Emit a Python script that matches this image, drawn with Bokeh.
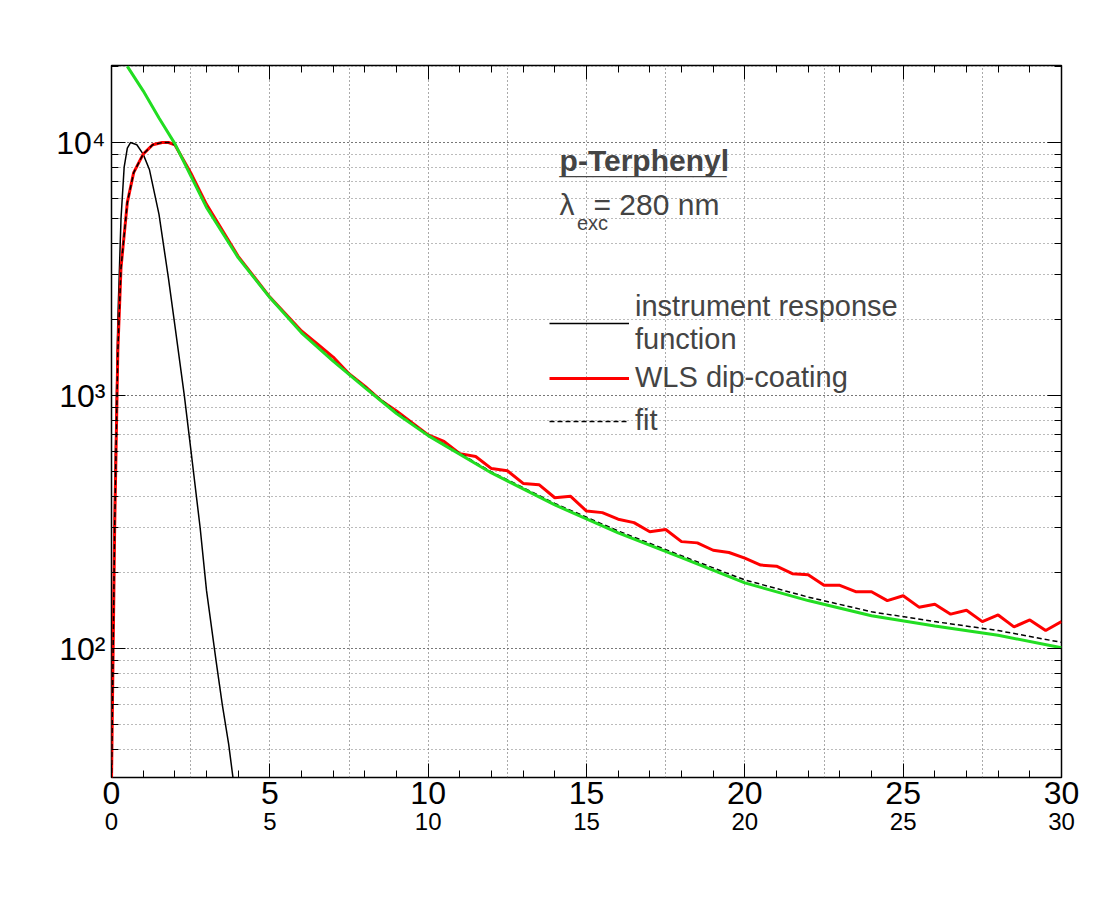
from bokeh.plotting import figure
from bokeh.models import (Range1d, LinearAxis, LogAxis, Label, Legend, LegendItem,
                          FixedTicker, LogTicker)
from bokeh.embed import file_html
from bokeh.resources import INLINE

FONT = "Liberation Sans"

irf_x = [0.0, 0.1, 0.2, 0.3, 0.4, 0.5, 0.6, 0.8, 1.0, 1.2, 1.5, 1.8, 2.0, 2.3, 2.5, 2.8, 3.0, 3.3, 3.5, 3.7, 3.85]
irf_y = [30, 400, 2000, 5000, 8000, 9500, 10000, 9800, 9000, 7800, 5200, 2900, 1900, 1000, 620, 300, 170, 90, 60, 42, 30]

rise_x = [0.0, 0.1, 0.2, 0.3, 0.5, 0.7, 1.0, 1.3, 1.6, 1.8]
rise_y = [30, 300, 1500, 3200, 5800, 7600, 9000, 9800, 10000, 10000]

red_x = [2.0 + 0.5 * i for i in range(57)]
red_y = [9800, 7600, 5700, 4500, 3550, 2950, 2450, 2100, 1800, 1600, 1420, 1220, 1090, 960, 870, 780,
         700, 660, 590, 575, 515, 505, 450, 445, 395, 400, 350, 345, 325, 315, 290, 296, 265, 262,
         245, 240, 228, 214, 212, 198, 196, 178, 178, 168, 168, 155, 162, 146, 150, 137, 142, 128,
         136, 122, 130, 118, 128]

fit_x = rise_x + [2.0, 2.5, 3, 4, 5, 6, 7, 8, 9, 10, 12, 14, 16, 18, 20, 22, 24, 26, 28, 30]
fit_y = rise_y + [9800, 7500, 5600, 3520, 2450, 1780, 1380, 1085, 860, 700, 500, 375, 292, 233, 187, 160, 140, 128, 118, 106]

green_x = [0.5, 1.0, 1.5, 2.0, 2.5, 3, 4, 5, 6, 7, 8, 9, 10, 12, 14, 16, 18, 20, 22, 24, 26, 28, 30]
green_y = [20000, 16000, 12500, 9900, 7400, 5540, 3510, 2440, 1770, 1370, 1075, 850, 695, 495, 370, 287, 229, 182, 155, 135, 123, 113, 101]

x_ticks = [0, 5, 10, 15, 20, 25, 30]
y_labels = {100: "10²", 1000: "10³", 10000: "10⁴"}
minor_x = [i * 1.0 for i in range(31)]

p = figure(width=1082, height=898, y_axis_type="log", output_backend="svg", toolbar_location=None,
           x_range=Range1d(0, 30), y_range=Range1d(31, 20150),
           min_border_left=111, min_border_right=21, min_border_top=65, min_border_bottom=121)
p.outline_line_color = "black"
p.outline_line_width = 1.5

for ax in p.xaxis + p.yaxis:
    ax.major_tick_in = 14
    ax.major_tick_out = 0
    ax.minor_tick_in = 7
    ax.minor_tick_out = 0
    ax.axis_line_color = None
    ax.major_label_text_font = FONT
    ax.major_label_text_font_size = "32px"
    ax.major_label_text_color = "black"
p.xaxis.ticker = FixedTicker(ticks=x_ticks, minor_ticks=minor_x)
p.xaxis.major_label_standoff = 4
p.yaxis.ticker = LogTicker(num_minor_ticks=10)
p.yaxis.major_label_overrides = y_labels
p.yaxis.major_label_standoff = 6

# second row of x tick labels
ax2 = LinearAxis(ticker=FixedTicker(ticks=x_ticks), axis_line_color=None, major_tick_line_color=None,
                 minor_tick_line_color=None, major_label_text_font=FONT, major_label_text_color="black",
                 major_label_text_font_size="24px", major_label_standoff=0)
p.add_layout(ax2, "below")
p.add_layout(LinearAxis(ticker=FixedTicker(ticks=x_ticks, minor_ticks=minor_x),
                        major_label_text_alpha=0, major_label_text_font_size="8px", axis_line_color=None,
                        major_tick_in=14, major_tick_out=0, minor_tick_in=7, minor_tick_out=0,
                        major_label_standoff=0), "above")
p.add_layout(LogAxis(ticker=LogTicker(num_minor_ticks=10), major_label_text_alpha=0,
                     major_label_text_font_size="8px", axis_line_color=None,
                     major_tick_in=14, major_tick_out=0, minor_tick_in=7, minor_tick_out=0,
                     major_label_standoff=0), "right")

p.xgrid.ticker = FixedTicker(ticks=[2.5, 5, 7.5, 10, 12.5, 15, 17.5, 20, 22.5, 25, 27.5])
for g in [p.xgrid, p.ygrid]:
    g.grid_line_color = "#555555"
    g.grid_line_dash = "1 3"
p.ygrid.minor_grid_line_color = "#777777"
p.ygrid.minor_grid_line_dash = "1 3"

r_irf = p.line(irf_x, irf_y, line_color="black", line_width=1.5)
r_red = p.line(rise_x + red_x, rise_y + red_y, line_color="red", line_width=3)
r_fit = p.line(fit_x, fit_y, line_color="black", line_width=1.5, line_dash="5 3")
p.line(green_x, green_y, line_color="#22dd22", line_width=3)

legend = Legend(items=[LegendItem(label="instrument response\nfunction", renderers=[r_irf]),
                       LegendItem(label="WLS dip-coating", renderers=[r_red]),
                       LegendItem(label="fit", renderers=[r_fit])],
                location=(438, 335), background_fill_alpha=0, border_line_color=None,
                label_text_font=FONT, label_text_font_size="29px", glyph_width=80,
                label_standoff=6, spacing=0, label_height=43)
p.add_layout(legend)

p.add_layout(Label(x=14.15, y=8490, text="p-Terphenyl", text_baseline="middle",
                   text_font=FONT, text_font_style="bold", text_font_size="30px"))
p.add_layout(Label(x=14.15, y=8300, text="__________", text_baseline="middle",
                   text_font=FONT, text_font_style="bold", text_font_size="30px"))
p.add_layout(Label(x=14.15, y=5690, text="λ", text_baseline="middle",
                   text_font=FONT, text_font_size="30px"))
p.add_layout(Label(x=14.7, y=4830, text="exc", text_baseline="middle",
                   text_font=FONT, text_font_size="20px"))
p.add_layout(Label(x=15.22, y=5690, text="= 280 nm", text_baseline="middle",
                   text_font=FONT, text_font_size="30px"))
p.add_layout(Label(x=0, y=27900, text_baseline="middle",
                   text="10*([0]*exp(-(x-1.0)/[1]) + [2]*exp(-(x-1.0)/[3]) + [4]*exp(-(x-1.0)/[5]))",
                   text_font=FONT, text_font_size="20px"))
p.add_layout(Label(x=-2.72, y=20150, text="Intensity [a.u.]", text_baseline="middle",
                   text_font=FONT, text_font_size="32px", angle=1.5708, text_align="right"))
p.add_layout(Label(x=29.6, y=12.8, text="Time [ns]", text_baseline="middle",
                   text_font=FONT, text_font_size="32px", text_align="right"))

open("out.html", "w").write(file_html(p, INLINE))
